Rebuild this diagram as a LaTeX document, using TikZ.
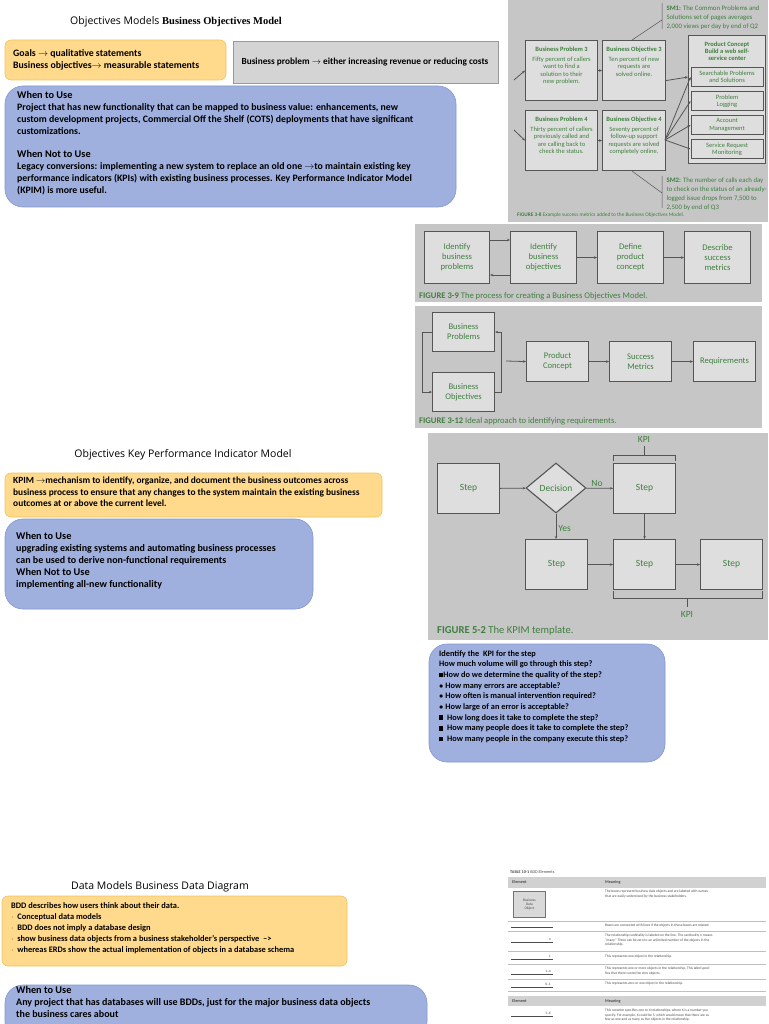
\documentclass[tikz,border=0pt]{standalone}
\usepackage{fontspec}
\setmainfont{Carlito}
\newfontfamily\ttl{Open Sans}
\newfontfamily\srf{Liberation Serif}
\usetikzlibrary{shapes.geometric,arrows.meta}
\newcommand{\bsq}{\rule[0.3pt]{4.2pt}{4.6pt}}
\definecolor{org}{HTML}{FFD98C}
\definecolor{orgb}{HTML}{F2C45E}
\definecolor{blu}{HTML}{9FB0DF}
\definecolor{blub}{HTML}{8297CC}
\definecolor{pan}{HTML}{C6C6C6}
\definecolor{fbx}{HTML}{DEDEDE}
\definecolor{grn}{HTML}{3F7F3F}
\definecolor{dk}{HTML}{555555}
\tikzset{
 obox/.style={draw=orgb,fill=org,rounded corners=6pt,line width=0.6pt},
 bbox/.style={draw=blub,fill=blu,rounded corners=18pt,line width=0.6pt},
 txt/.style={anchor=north west,align=left,inner sep=0pt,font=\fontsize{9.8}{12}\selectfont},
 title/.style={font=\ttl\fontsize{10.5}{12}\selectfont,inner sep=0pt},
 fb/.style={draw=dk,fill=fbx,line width=1.1pt,align=center,text=grn,inner sep=1pt},
 ft/.style={text=grn,font=\fontsize{8.6}{10}\selectfont},
 st/.style={text=grn,font=\fontsize{6.5}{7.4}\selectfont,align=center},
 figcap/.style={anchor=west,inner sep=0pt,text=grn,font=\fontsize{8.6}{10}\selectfont},
 ar/.style={-{Stealth[length=3pt,width=2.5pt]},draw=dk,line width=0.8pt},
 ln/.style={draw=dk,line width=0.8pt},
 tt/.style={font=\fontsize{3.6}{4.3}\selectfont,text=black!70,anchor=north west,inner sep=0pt,align=left}
}
\newcommand{\hd}[1]{\textbf{\fontsize{10.3}{12}\selectfont #1}}
\begin{document}
\begin{tikzpicture}[x=1pt,y=-1pt]
\useasboundingbox (0,0) rectangle (768,1024);
\fill[white] (0,0) rectangle (768,1024);
% ===== Section 1 =====
\node[title] (t1) at (176,22) {Objectives Models {\srf\bfseries Business Objectives Model}};
\draw[obox] (5,40) rectangle (226,80);
\node[txt] (o1) at (13,49) {\textbf{Goals $\rightarrow$ qualitative statements}\\\textbf{Business objectives$\rightarrow$ measurable statements}};
\draw[draw=black!40,fill=black!17,line width=0.6pt] (233,41) rectangle (498,83);
\node[font=\fontsize{9.3}{11}\selectfont\bfseries] (g1) at (365,62) {Business problem $\rightarrow$ either increasing revenue or reducing costs};
\draw[bbox] (5,86) rectangle (456,207);
\node[txt] (b1) at (17,91) {\hd{When to Use}\\
\textbf{Project that has new functionality that can be mapped to business value: enhancements, new}\\
\textbf{custom development projects, Commercial Off the Shelf (COTS) deployments that have significant}\\
\textbf{customizations.}\\[11pt]
\hd{When Not to Use}\\
\textbf{Legacy conversions: implementing a new system to replace an old one $\rightarrow$to maintain existing key}\\
\textbf{performance indicators (KPIs) with existing business processes. Key Performance Indicator Model}\\
\textbf{(KPIM) is more useful.}};
% ===== Figure 3-8 =====
\fill[pan] (508,0) rectangle (768,222);
\node[fb,minimum width=72,minimum height=60,anchor=north west] (bp3) at (525,40) {};
\node[st,anchor=north] at (bp3.north) [yshift=-3] {\textbf{Business Problem 3}\\[3pt]Fifty percent of callers\\want to find a\\solution to their\\new problem.};
\node[fb,minimum width=63,minimum height=60,anchor=north west] (bo3) at (602,40) {};
\node[st,anchor=north] at (bo3.north) [yshift=-3] {\textbf{Business Objective 3}\\[3pt]Ten percent of new\\requests are\\solved online.};
\node[fb,minimum width=72,minimum height=60,anchor=north west] (bp4) at (525,110) {};
\node[st,anchor=north] at (bp4.north) [yshift=-3] {\textbf{Business Problem 4}\\[3pt]Thirty percent of callers\\previously called and\\are calling back to\\check the status.};
\node[fb,minimum width=63,minimum height=60,anchor=north west] (bo4) at (602,110) {};
\node[st,anchor=north] at (bo4.north) [yshift=-3] {\textbf{Business Objective 4}\\[3pt]Seventy percent of\\follow-up support\\requests are solved\\completely online.};
\node[fb,minimum width=77,minimum height=128,anchor=north west] (pc) at (688,35) {};
\node[st,anchor=north] at (pc.north) [yshift=-3] {\textbf{Product Concept}\\\textbf{Build a web self-}\\\textbf{service center}};
\node[fb,minimum width=72,minimum height=19,anchor=north west,st,draw=dk] (s1) at (690.5,67) {Searchable Problems\\and Solutions};
\node[fb,minimum width=72,minimum height=19,anchor=north west,st] (s2) at (690.5,91) {Problem\\Logging};
\node[fb,minimum width=72,minimum height=19,anchor=north west,st] (s3) at (690.5,115) {Account\\Management};
\node[fb,minimum width=72,minimum height=19,anchor=north west,st] (s4) at (690.5,139) {Service Request\\Monitoring};
\coordinate (in3) at (514,80); \coordinate (in4) at (514,130);
\draw[ar] (in3) -- (bp3.west);
\draw[ar] (in4) -- (bp4.west);
\draw[ar] (bp3) -- (bo3);
\draw[ar] (bp4) -- (bo4);
\draw[ar] (bo3.east) ++(0,10) -- (pc.west|-s1);
\coordinate (bo4e) at (665,140);
\foreach \s in {s1,s2,s3,s4} \draw[ar] (bo4e) -- (\s.west);
\node[st,anchor=north west,align=left,font=\fontsize{6.8}{9}\selectfont] (sm1) at (663,2) {\textbf{SM1:} The Common Problems and\\Solutions set of pages averages\\2,000 views per day by end of Q2};
\node[st,anchor=north west,align=left,font=\fontsize{6.8}{9}\selectfont] (sm2) at (663,174) {\textbf{SM2:} The number of calls each day\\to check on the status of an already-\\logged issue drops from 7,500 to\\2,500 by end of Q3};
\draw[ln,line width=0.5pt] (bo3.north) ++(-2,0) -- (662,20) (662,3) -- (662,29);
\draw[ln,line width=0.5pt] (bo4.south) ++(-2,0) -- (662,193) (662,176) -- (662,208);
\node[figcap,font=\fontsize{5.3}{6}\selectfont] (c38) at (517,215) {\textbf{FIGURE 3-8} Example success metrics added to the Business Objectives Model.};
% ===== Figure 3-9 =====
\fill[pan] (415,224) rectangle (762,302);
\node[fb,ft,minimum width=65,minimum height=52,anchor=north west] (f1) at (424,231) {Identify\\business\\problems};
\node[fb,ft,minimum width=66,minimum height=52,anchor=north west] (f2) at (510,231) {Identify\\business\\objectives};
\node[fb,ft,minimum width=66,minimum height=52,anchor=north west] (f3) at (597,231) {Define\\product\\concept};
\node[fb,ft,minimum width=66,minimum height=52,anchor=north west] (f4) at (684,231) {Describe\\success\\metrics};
\draw[ar] (f1.east|-0,240) -- (f2.west|-0,240);
\draw[ar] (f2.west|-0,275) -- (f1.east|-0,275);
\draw[ar] (f2) -- (f3);
\draw[ar] (f3) -- (f4);
\node[figcap] (c39) at (419,296) {\textbf{FIGURE 3-9} The process for creating a Business Objectives Model.};
% ===== Figure 3-12 =====
\fill[pan] (415,306) rectangle (762,428);
\node[fb,ft,minimum width=62,minimum height=39,anchor=north west] (r1) at (432,312) {Business\\Problems};
\node[fb,ft,minimum width=62,minimum height=39,anchor=north west] (r2) at (432,372) {Business\\Objectives};
\node[fb,ft,minimum width=62,minimum height=40,anchor=north west] (r3) at (526,341) {Product\\Concept};
\node[fb,ft,minimum width=62,minimum height=40,anchor=north west] (r4) at (609,341) {Success\\Metrics};
\node[fb,ft,minimum width=62,minimum height=40,anchor=north west] (r5) at (693,341) {Requirements};
\draw[ar] (r1.west) -- ++(-10,0) |- (r2.west);
\draw[ar] (r2.east) -- ++(6,0) |- (r1.east);
\coordinate (rin) at (506,361);
\draw[ar] (rin) -- (r3.west);
\draw[ar] (r3) -- (r4);
\draw[ar] (r4) -- (r5);
\node[figcap] (c312) at (419,421) {\textbf{FIGURE 3-12} Ideal approach to identifying requirements.};
% ===== Section 2 =====
\node[title] (t2) at (183,455) {Objectives Key Performance Indicator Model};
\draw[obox] (5,473) rectangle (382,517);
\node[txt,font=\fontsize{9.4}{11.5}\selectfont\bfseries] (o2) at (13,477) {KPIM $\rightarrow$mechanism to identify, organize, and document the business outcomes across\\business process to ensure that any changes to the system maintain the existing business\\outcomes at or above the current level.};
\draw[bbox] (5,519) rectangle (313,609);
\node[txt,font=\fontsize{10}{12}\selectfont] (b2) at (16,532) {\hd{When to Use}\\
\textbf{upgrading existing systems and automating business processes}\\
\textbf{can be used to derive non-functional requirements}\\
\hd{When Not to Use}\\
\textbf{implementing all-new functionality}};
% ===== KPIM figure =====
\fill[pan] (428,433) rectangle (768,640);
\tikzset{kb/.style={fb,font=\fontsize{9.5}{11}\selectfont,minimum width=62,minimum height=50,anchor=north west}}
\node[kb] (k1) at (437,463) {Step};
\node[diamond,draw=dk,fill=fbx,line width=1.1pt,text=grn,font=\fontsize{9.5}{11}\selectfont,minimum width=60,minimum height=50,aspect=1.2,inner sep=0pt] (kd) at (556,488) {Decision};
\node[kb] (k2) at (613,463) {Step};
\node[kb] (k3) at (525,539) {Step};
\node[kb] (k4) at (613,539) {Step};
\node[kb] (k5) at (700,539) {Step};
\draw[ar] (k1) -- (kd);
\draw[ar] (kd) -- node[above,text=grn,font=\fontsize{9.5}{10}\selectfont,pos=0.4,inner sep=1pt]{No} (k2);
\draw[ar] (kd) -- node[right,text=grn,font=\fontsize{9.5}{10}\selectfont,pos=0.6,inner sep=2pt]{Yes} (kd|-k3.north);
\draw[ar] (k2) -- (k4);
\draw[ar] (k3) -- (k4);
\draw[ar] (k4) -- (k5);
\draw[ln,line width=0.6pt] (613,461) -- (613,455) -- (675,455) -- (675,461) (644,455) -- (644,446);
\node[text=grn,font=\fontsize{9.5}{10}\selectfont] (kt) at (644,439) {KPI};
\draw[ln,line width=0.6pt] (613,591) -- (613,598) -- (762,598) -- (762,591) (687,598) -- (687,607);
\node[text=grn,font=\fontsize{9.5}{10}\selectfont] (kb2) at (687,614) {KPI};
\node[figcap,font=\fontsize{10.6}{12}\selectfont] (c52) at (437,631) {\textbf{FIGURE 5-2} The KPIM template.};
\draw[bbox] (429,644) rectangle (665,762);
\node[txt,font=\fontsize{8.3}{10.7}\selectfont\bfseries] (b3) at (439,650) {Identify the \ KPI for the step\\
How much volume will go through this step?\\
\bsq How do we determine the quality of the step?\\
$\bullet$ How many errors are acceptable?\\
$\bullet$ How often is manual intervention required?\\
$\bullet$ How large of an error is acceptable?\\
\bsq\ \ How long does it take to complete the step?\\
\bsq\ \ How many people does it take to complete the step?\\
\bsq\ \ How many people in the company execute this step?};
% ===== Section 3 =====
\node[title] (t3) at (160,887) {Data Models Business Data Diagram};
\draw[obox] (2,896) rectangle (347,966);
\node[txt,font=\fontsize{8.4}{11}\selectfont\bfseries] (o3) at (11,902) {BDD describes how users think about their data.\\
$\cdot$\ \ Conceptual data models\\
$\cdot$\ \ BDD does not imply a database design\\
$\cdot$\ \ show business data objects from a business stakeholder's perspective \ -->\\
$\cdot$\ \ whereas ERDs show the actual implementation of objects in a database schema};
\draw[bbox] (5,985) rectangle (427,1040);
\node[txt,font=\fontsize{10}{12}\selectfont] (b4) at (16,986) {\hd{When to Use}\\
\textbf{Any project that has databases will use BDDs, just for the major business data objects}\\
\textbf{the business cares about}};
% ===== BDD table =====
\node[tt,font=\fontsize{4.2}{5}\selectfont] (tt0) at (510,870) {\textbf{TABLE 10-1} BDD Elements};
\fill[black!18] (508,877) rectangle (766,888);
\node[tt,font=\fontsize{4.2}{5}\selectfont\bfseries] (th1) at (512,880) {Element};
\node[tt,font=\fontsize{4.2}{5}\selectfont\bfseries] (th2) at (605,880) {Meaning};
\node[draw=black!55,fill=black!15,line width=0.8pt,minimum width=32,minimum height=26,anchor=north west,tt,align=center,inner sep=1pt] (bdo) at (513,891) {\parbox{28pt}{\centering Business\\Data\\Object}};
\begin{scope}[draw=black!25,line width=0.3pt]
\draw (508,921) -- (766,921) (508,931) -- (766,931) (508,951) -- (766,951) (508,964) -- (766,964) (508,979) -- (766,979) (508,991) -- (766,991);
\end{scope}
\begin{scope}[draw=black!70,line width=0.5pt]
\draw (511,927) -- (553,927);
\draw (511,942) -- (553,942); \draw (511,959) -- (553,959); \draw (511,974) -- (553,974); \draw (511,987) -- (553,987);
\end{scope}
\node[tt,anchor=south east] at (551,941) {n};
\node[tt,anchor=south east] at (551,958) {1};
\node[tt,anchor=south east] at (551,973) {1..n};
\node[tt,anchor=south east] at (551,986) {0..1};
\node[tt] at (605,890) {The boxes represent business data objects and are labeled with names\\that are easily understood by the business stakeholders.};
\node[tt] at (605,924) {Boxes are connected with lines if the objects in those boxes are related.};
\node[tt] at (605,934) {The relationship cardinality is labeled on the line. The cardinality n means\\``many.'' There can be zero to an unlimited number of the objects in the\\relationship.};
\node[tt] at (605,955) {This represents one object in the relationship.};
\node[tt] at (605,967) {This represents one or more objects in the relationship. This label speci-\\fies that there cannot be zero objects.};
\node[tt] at (605,982) {This represents zero or one object in the relationship.};
\fill[black!18] (508,996) rectangle (766,1006);
\node[tt,font=\fontsize{4.2}{5}\selectfont\bfseries] at (512,999) {Element};
\node[tt,font=\fontsize{4.2}{5}\selectfont\bfseries] at (605,999) {Meaning};
\draw[black!70,line width=0.5pt] (511,1016) -- (553,1016);
\node[tt,anchor=south east] at (551,1015) {1..X};
\node[tt] at (605,1009) {This notation specifies one to X relationships, where X is a number you\\specify. For example, X could be 5, which would mean that there are as\\few as one and as many as five objects in the relationship.};
\end{tikzpicture}
\end{document}
